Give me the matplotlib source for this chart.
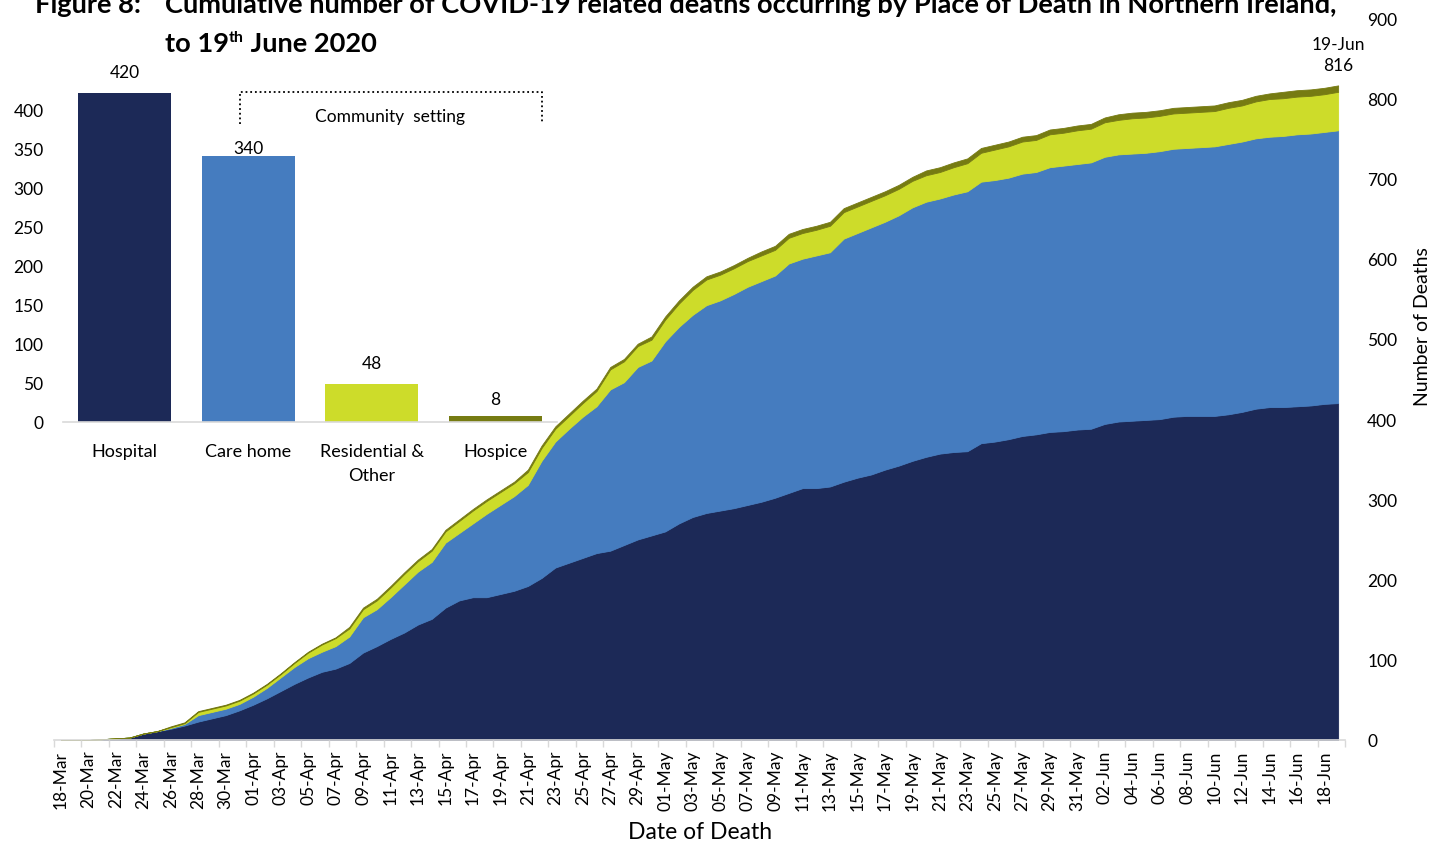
import matplotlib
matplotlib.use("Agg")
from matplotlib import pyplot as plt
from matplotlib.lines import Line2D
import numpy as np
import pandas as pd

plt.rcParams['font.family'] = ['Lato', 'DejaVu Sans']

# daily cumulative deaths by place of death, 18-Mar .. 19-Jun
DATES = pd.date_range("2020-03-18", "2020-06-19").strftime("%d-%b").tolist()

HOSPITAL = [0, 0, 0, 1, 2, 3, 8, 11, 14, 18,
            23, 27, 31, 37, 44, 52, 61, 70, 78, 85,
            89, 96, 109, 117, 126, 134, 144, 151, 165, 174,
            178, 178, 182, 186, 192, 202, 215, 221, 227, 233,
            236, 243, 250, 255, 260, 270, 278, 283, 286, 289,
            293, 297, 302, 308, 314, 314, 316, 322, 327, 331,
            337, 342, 348, 353, 357, 359, 360, 370, 372, 375,
            379, 381, 384, 385, 387, 388, 394, 397, 398, 399,
            400, 403, 404, 404, 404, 406, 409, 413, 415, 415,
            416, 417, 419, 420]

CARE_HOME = [0, 0, 0, 0, 0, 0, 0, 0, 1, 2,
             8, 8, 8, 8, 10, 13, 17, 21, 24, 25,
             28, 33, 44, 46, 52, 60, 66, 71, 81, 84,
             92, 104, 111, 118, 126, 146, 157, 167, 176, 183,
             201, 203, 215, 218, 237, 245, 252, 259, 262, 267,
             272, 275, 277, 286, 286, 290, 292, 303, 305, 308,
             309, 312, 316, 318, 318, 321, 324, 326, 326, 326,
             327, 327, 330, 331, 331, 332, 333, 333, 333, 333,
             334, 334, 334, 335, 336, 337, 337, 337, 337, 338,
             339, 339, 339, 340]

RESIDENTIAL = [0, 0, 0, 0, 0, 0, 0, 0, 1, 1,
               4, 4, 4, 4, 4, 4, 4, 5, 7, 9,
               10, 10, 10, 11, 12, 13, 13, 14, 14, 15,
               16, 16, 16, 16, 16, 16, 16, 16, 17, 19,
               25, 26, 26, 26, 27, 29, 31, 32, 32, 32,
               32, 32, 32, 32, 32, 32, 33, 33, 33, 33,
               33, 33, 33, 33, 33, 34, 35, 36, 38, 39,
               40, 40, 41, 41, 42, 42, 43, 43, 44, 44,
               44, 44, 44, 44, 44, 45, 45, 46, 47, 47,
               47, 47, 47, 48]

HOSPICE = [0, 0, 0, 0, 0, 0, 0, 0, 1, 1,
           1, 1, 1, 1, 1, 1, 1, 1, 1, 1,
           1, 2, 2, 2, 2, 2, 2, 2, 2, 2,
           2, 2, 2, 2, 3, 3, 3, 3, 3, 3,
           3, 3, 3, 4, 4, 4, 4, 4, 4, 4,
           4, 5, 5, 5, 5, 5, 5, 5, 5, 5,
           5, 5, 5, 6, 6, 6, 6, 6, 6, 6,
           6, 6, 6, 6, 6, 6, 6, 7, 7, 7,
           7, 7, 7, 7, 7, 7, 7, 7, 7, 8,
           8, 8, 8, 8]

PLACES = ["Hospital", "Care home", "Residential &\nOther", "Hospice"]
TOTALS = [420, 340, 48, 8]

COLORS = ["#1c2957", "#457cbf", "#cddc2a", "#767b12"]
GREY = "#d9d9d9"

W, HP = 1436, 845


def fx(px):
    return px / W


def fy(py):
    return 1 - py / HP


fig = plt.figure(figsize=(W / 100, HP / 100), dpi=100)

# ---- main stacked area chart (right axis) ----
ax = fig.add_axes([fx(54), fy(741), (1345 - 54) / W, (741 - 19) / HP])
x = np.arange(len(DATES))
polys = ax.stackplot(x, HOSPITAL, CARE_HOME, RESIDENTIAL, HOSPICE, colors=COLORS)
for p, c in zip(polys, COLORS):
    p.set_edgecolor(c)
    p.set_linewidth(0.6)

ax.set_xlim(-0.5, len(DATES) - 0.5)
ax.set_ylim(0, 900)
ax.yaxis.tick_right()
ax.set_yticks(range(0, 901, 100))
ax.tick_params(axis='y', length=0, pad=16, labelsize=12.5)

ax.set_xticks(x[::2])
ax.set_xticklabels(DATES[::2], rotation=90)
ax.set_xticks(np.arange(-0.5, len(DATES), 2), minor=True)
ax.tick_params(axis='x', which='major', length=0, pad=7, labelsize=12.5)
ax.tick_params(axis='x', which='minor', length=5, color=GREY, width=1)

for s in ["top", "left", "right"]:
    ax.spines[s].set_visible(False)
ax.spines["bottom"].set_color(GREY)
ax.spines["bottom"].set_linewidth(1.2)

total = np.array(HOSPITAL) + np.array(CARE_HOME) + np.array(RESIDENTIAL) + np.array(HOSPICE)
ax.annotate(DATES[-1] + "\n" + str(total[-1]), (x[-1], total[-1]),
            xytext=(0, 9), textcoords="offset points",
            ha="center", va="bottom", fontsize=12.5, linespacing=1.4)

fig.text(fx(700), fy(833), "Date of Death", ha="center", va="center", fontsize=16.5)
fig.text(fx(1423), fy(327), "Number of Deaths", ha="center", va="center",
         rotation=90, fontsize=14)

# ---- inset bar chart (left axis) ----
ax2 = fig.add_axes([fx(63), fy(423), (557 - 63) / W, (423 - 71) / HP])
ax2.patch.set_alpha(0)
ax2.bar(range(len(PLACES)), TOTALS, width=0.755, color=COLORS)
ax2.set_xlim(-0.5, len(PLACES) - 0.5)
ax2.set_ylim(0, 450)
ax2.set_yticks(range(0, 401, 50))
ax2.tick_params(axis='y', length=0, pad=14, labelsize=12.5)
ax2.set_xticks(range(len(PLACES)))
ax2.set_xticklabels(PLACES, fontsize=13, linespacing=1.65)
ax2.tick_params(axis='x', length=0, pad=15)
for s in ["top", "left", "right"]:
    ax2.spines[s].set_visible(False)
ax2.spines["bottom"].set_color(GREY)
ax2.spines["bottom"].set_linewidth(1.2)

label_gap = [10, 0, 10, 6]
for i, v in enumerate(TOTALS):
    ax2.annotate(str(v), (i, v), xytext=(0, label_gap[i]), textcoords="offset points",
                 ha="center", va="bottom", fontsize=12.5)

# community setting bracket
ax2.add_line(Line2D([0.93, 0.93, 3.38, 3.38], [381, 422, 422, 381], color="black",
                    lw=1.3, linestyle=(0, (1, 1.6))))
ax2.text(2.15, 391, "Community  setting", ha="center", va="center", fontsize=12.5)

# ---- title ----
tkw = dict(fontsize=19.6, fontweight="bold", va="baseline")
fig.text(fx(35), fy(13), "Figure 8:", **tkw)
fig.text(fx(165), fy(13),
         "Cumulative number of COVID-19 related deaths occurring by Place of Death in Northern Ireland,",
         **tkw)
t1 = fig.text(fx(165), fy(52), "to 19", **tkw)
fig.canvas.draw()
r = fig.canvas.get_renderer()
bb = t1.get_window_extent(r)
t2 = fig.text(bb.x1 / W, fy(42), "th", fontsize=11.5, fontweight="bold", va="baseline")
bb2 = t2.get_window_extent(r)
fig.text(bb2.x1 / W, fy(52), " June 2020", **tkw)

fig.savefig("out.png", dpi=100)
